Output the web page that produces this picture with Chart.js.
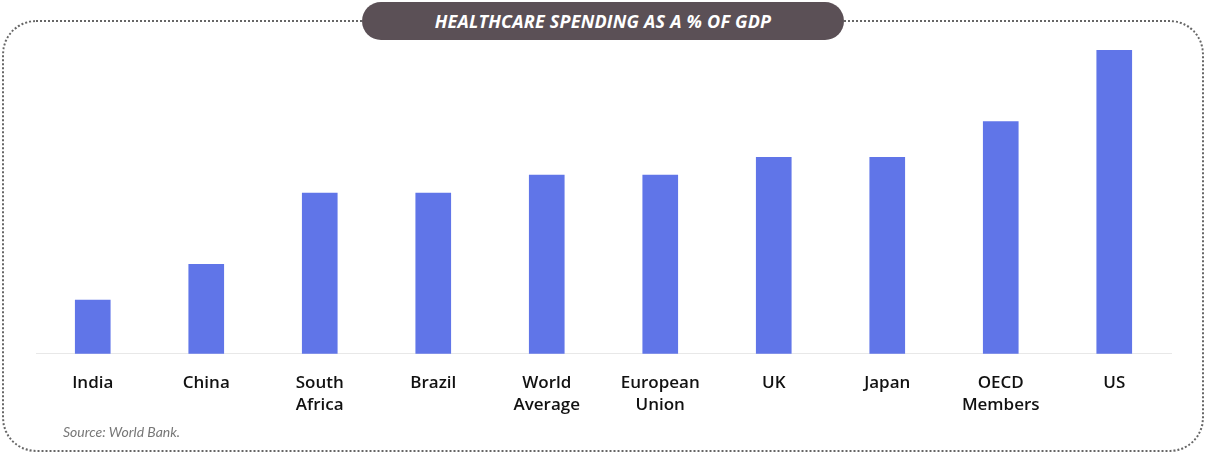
<!DOCTYPE html>
<html>
<head>
<meta charset="utf-8">
<script src="https://cdn.jsdelivr.net/npm/chart.js@4"></script>
<style>
  body { margin: 0; background: #fff; font-family: Lato, sans-serif; }
  #wrap { position: relative; width: 1208px; height: 456px; }
  #frame { position: absolute; left: 2px; top: 20px; width: 1202px; height: 432px;
    border: 2px dotted #666; border-radius: 34px; box-sizing: border-box; }
  #title { position: absolute; left: 362px; top: 2px; width: 482px; height: 38px;
    background: #5b5056; border-radius: 19px; color: #fff; font: italic 700 18px "Open Sans", sans-serif;
    text-align: center; line-height: 38px; letter-spacing: 0.2px; }
  #source { position: absolute; left: 63px; top: 423px; color: #777; font: italic 14px Lato, sans-serif; }
  canvas { position: absolute; left: 0; top: 0; }
</style>
</head>
<body>
<div id="wrap">
  <div id="frame"></div>
  <div id="title">HEALTHCARE SPENDING AS A % OF GDP</div>
  <canvas id="chart" width="1208" height="456"></canvas>
  <div id="source">Source: World Bank.</div>
</div>
<script>
  // Categories (multi-line labels)
  const categories = [['India'], ['China'], ['South', 'Africa'], ['Brazil'], ['World', 'Average'],
    ['European', 'Union'], ['UK'], ['Japan'], ['OECD', 'Members'], ['US']];
  // Healthcare spending, % of GDP
  const spending = [3, 5, 9, 9, 10, 10, 11, 11, 13, 17];

  const ctx = document.getElementById('chart').getContext('2d');
  new Chart(ctx, {
    type: 'bar',
    data: {
      labels: categories,
      datasets: [{
        data: spending,
        backgroundColor: '#6075e8',
        barThickness: 35
      }]
    },
    options: {
      responsive: false,
      animation: false,
      layout: { padding: { left: 36, right: 37, top: 50, bottom: 30 } },
      plugins: { legend: { display: false }, tooltip: { enabled: false } },
      scales: {
        x: {
          grid: { display: false },
          border: { color: '#e8e8e8' },
          ticks: { color: '#111', font: { family: 'Open Sans', size: 17, weight: '600', lineHeight: 1.3 }, padding: 10 }
        },
        y: { display: false, min: 0, max: 17 }
      }
    }
  });
</script>
</body>
</html>
